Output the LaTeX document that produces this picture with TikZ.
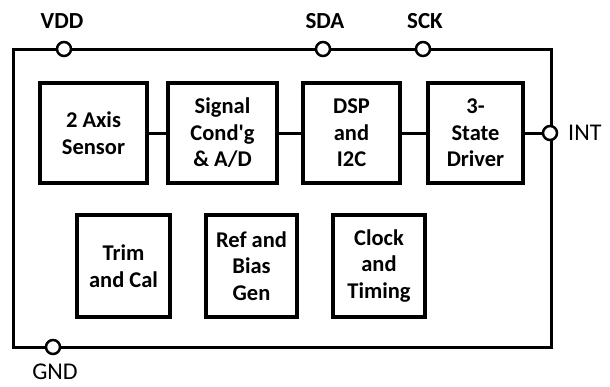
\documentclass[tikz,border=0pt]{standalone}
\usepackage{fontspec}
\setmainfont{Carlito}
\begin{document}
\begin{tikzpicture}[x=1pt,y=-1pt,
  blk/.style={draw,line width=3.5pt,align=center,inner sep=0pt,
    font=\fontsize{22.5}{26.5}\selectfont\bfseries},
  pinc/.style={circle,draw,fill=white,line width=2.5pt,minimum size=14pt,inner sep=0pt},
  lblb/.style={inner sep=0pt,font=\fontsize{23}{26}\selectfont\bfseries},
  lblr/.style={inner sep=0pt,font=\fontsize{24}{26}\selectfont},
  wire/.style={line width=3pt}]
\useasboundingbox (0,0) rectangle (610,386);
% outer package
\draw[wire] (13,49) rectangle (551,347);
% row 1 blocks
\node[blk,minimum width=107pt,minimum height=100pt] (sens) at (93.5,133) {2 Axis\\Sensor};
\node[blk,minimum width=109pt,minimum height=100pt] (sig) at (222.5,133) {Signal\\Cond\textquotesingle g\\\& A/D};
\node[blk,minimum width=97pt,minimum height=100pt] (dsp) at (351.5,133) {DSP\\and\\I2C};
\node[blk,minimum width=95pt,minimum height=100pt] (drv) at (475.5,133) {3-\\State\\Driver};
% row 2 blocks
\node[blk,minimum width=93pt,minimum height=102pt] (trim) at (123.5,266) {Trim\\and Cal};
\node[blk,minimum width=91pt,minimum height=102pt] (ref) at (251.5,266) {Ref and\\Bias\\Gen};
\node[blk,minimum width=92pt,minimum height=102pt] (clk) at (379,266) {Clock\\and\\Timing};
% pins
\node[pinc] (vdd) at (64,49) {};
\node[pinc] (sda) at (323,49) {};
\node[pinc] (sck) at (423,49) {};
\node[pinc] (int) at (550,133) {};
\node[pinc] (gnd) at (53,347) {};
% pin labels
\node[lblb] (vddl) at (62,21) {VDD};
\node[lblb] (sdal) at (325,21) {SDA};
\node[lblb] (sckl) at (425,21) {SCK};
\node[lblr,anchor=west] (intl) at (568,133) {INT};
\node[lblr] (gndl) at (55,372) {GND};
% connectors
\draw[wire] (sens.east) -- (sig.west);
\draw[wire] (sig.east) -- (dsp.west);
\draw[wire] (dsp.east) -- (drv.west);
\draw[wire] (drv.east) -- (int.west);
\end{tikzpicture}
\end{document}
